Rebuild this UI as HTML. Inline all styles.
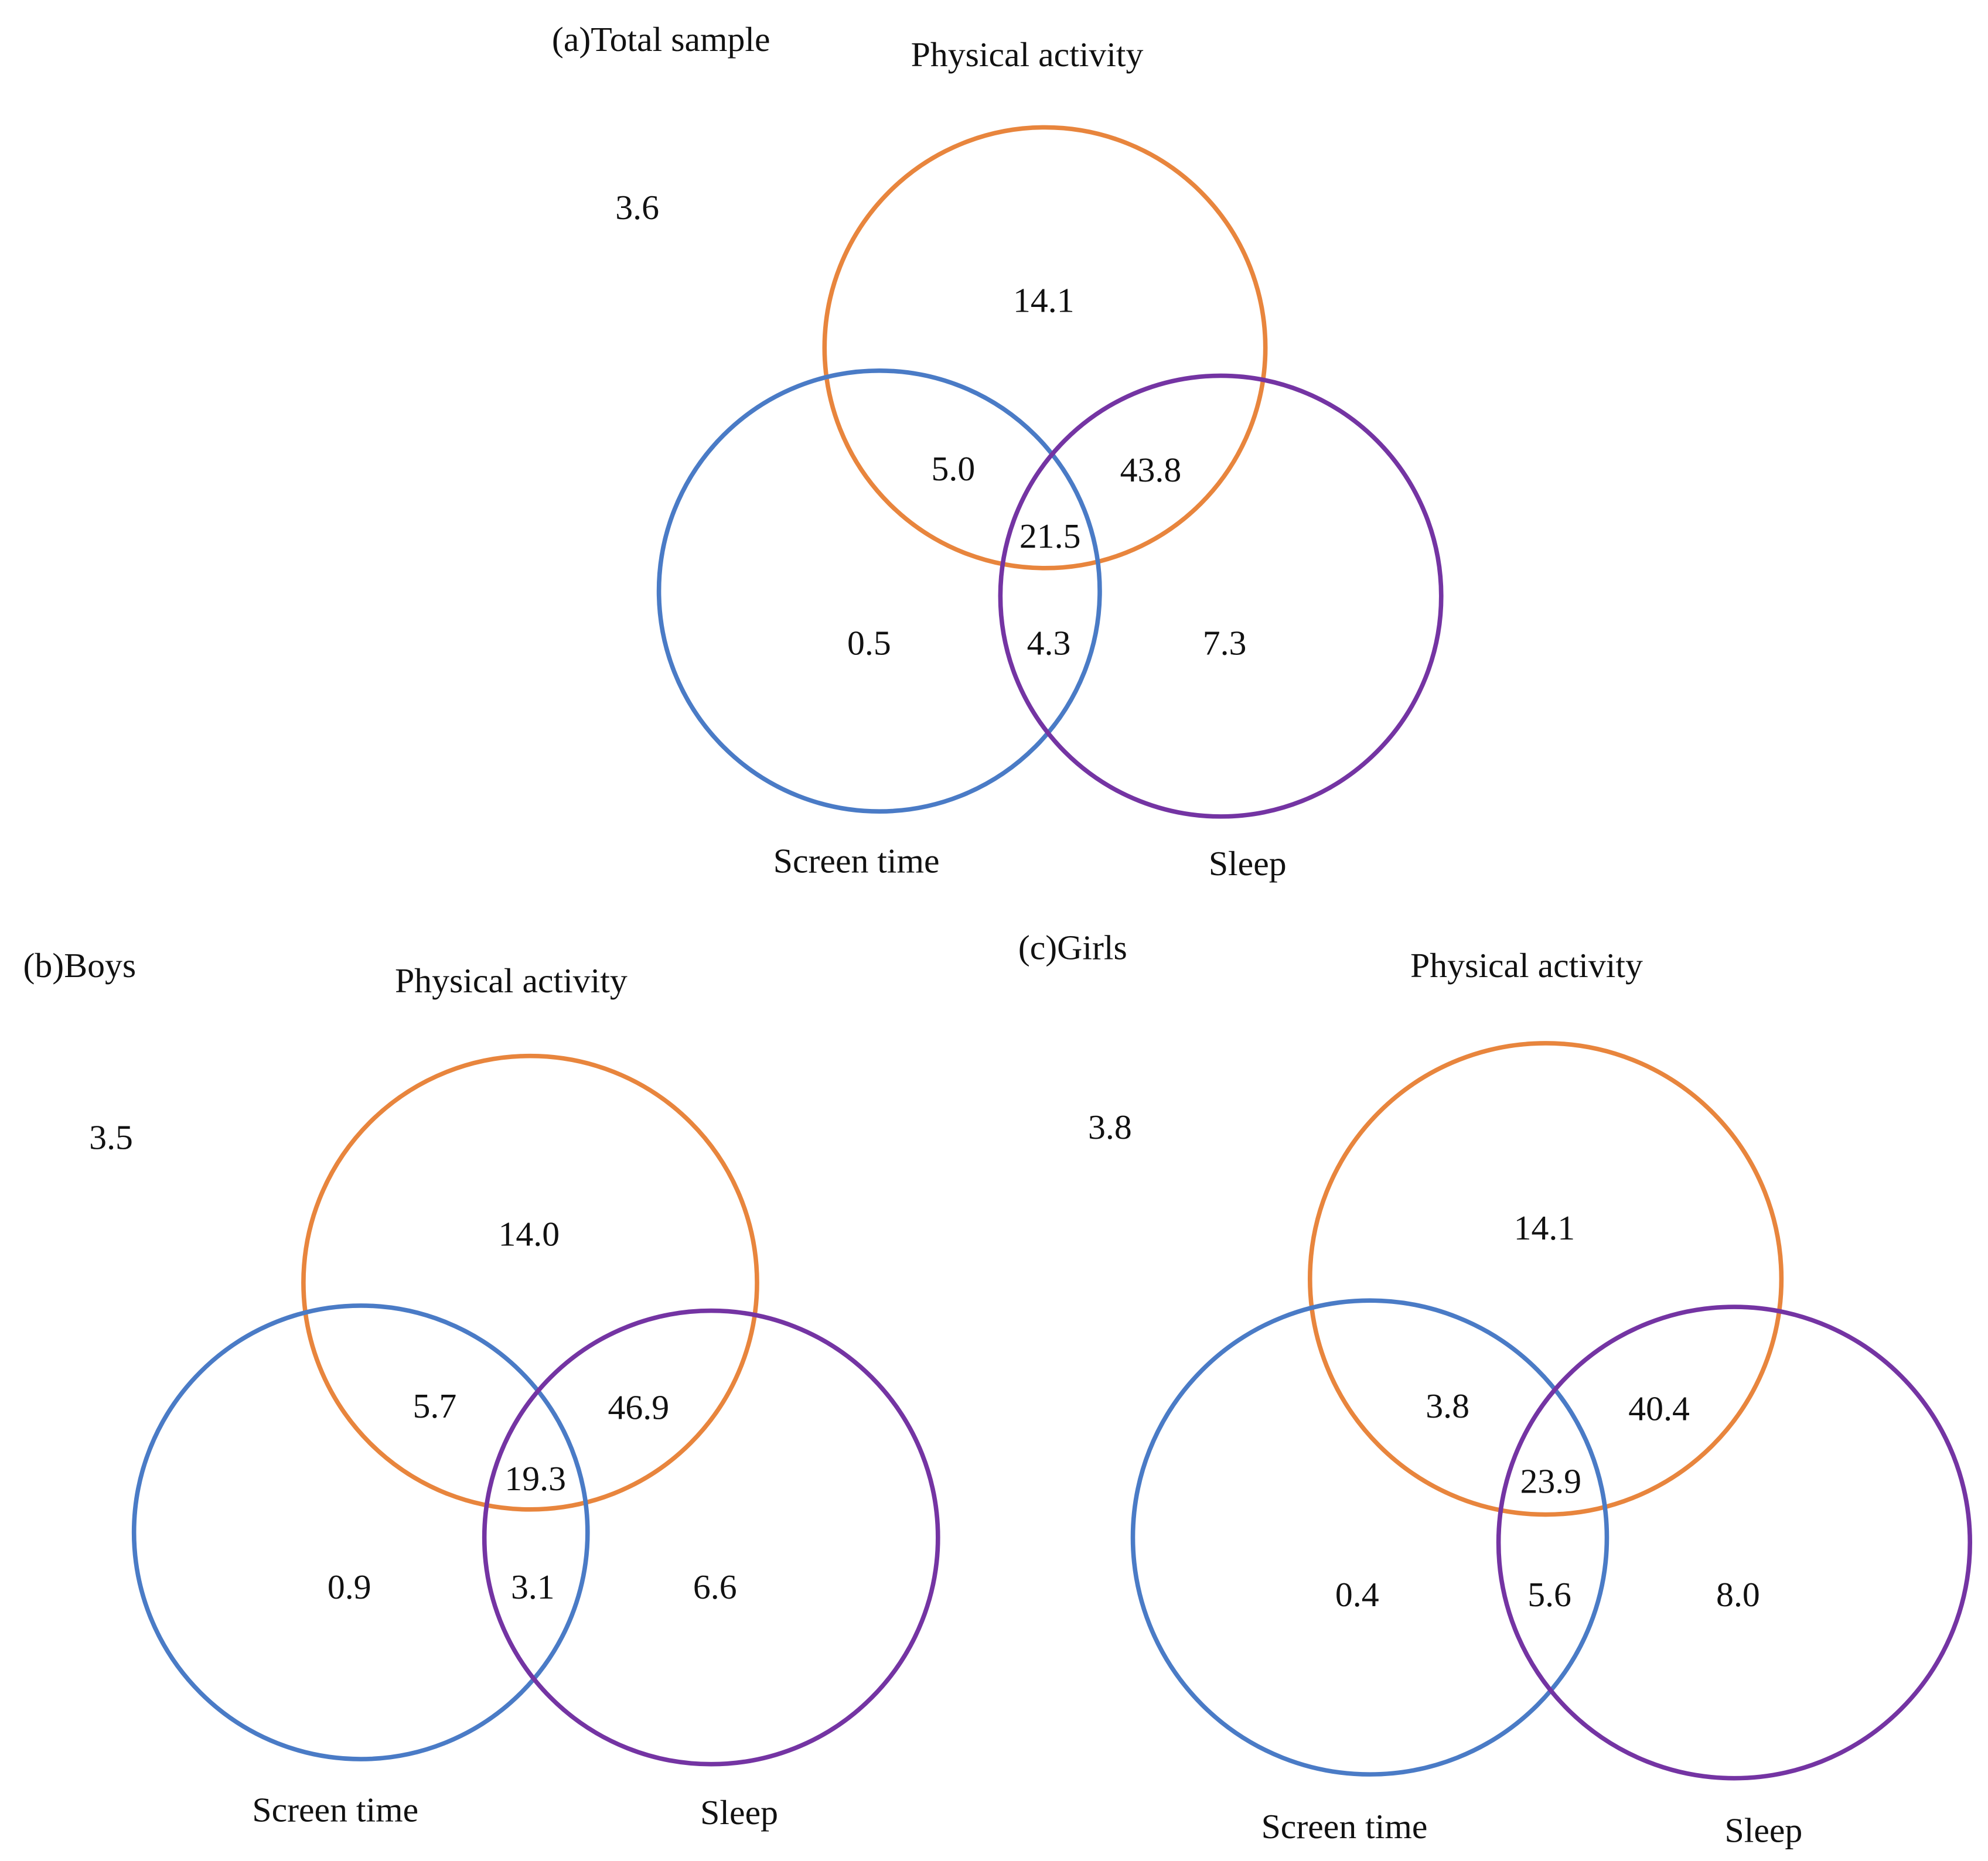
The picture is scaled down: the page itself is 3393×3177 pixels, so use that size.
<!DOCTYPE html>
<html><head><meta charset="utf-8"><style>
html,body{margin:0;padding:0;background:#fff}
svg{display:block}
text{font-family:"Liberation Serif",serif;font-size:27.5px;fill:#111}
</style></head><body>
<svg id="chart" width="3393" height="3177" viewBox="0 0 1560 1461" xmlns="http://www.w3.org/2000/svg"></svg>
<script>
const panelTitles = ["(a)Total sample", "(b)Boys", "(c)Girls"];
const panelIds = ["total", "boys", "girls"];
const setNames = ["Physical activity", "Screen time", "Sleep"];
const noneValues = ["3.6", "3.5", "3.8"];
const paOnly = ["14.1", "14.0", "14.1"];
const paScreen = ["5.0", "5.7", "3.8"];
const paSleep = ["43.8", "46.9", "40.4"];
const allThree = ["21.5", "19.3", "23.9"];
const screenOnly = ["0.5", "0.9", "0.4"];
const screenSleep = ["4.3", "3.1", "5.6"];
const sleepOnly = ["7.3", "6.6", "8.0"];

const layouts = [
 {title:[433,40,"start"], pa:[820,273,173], st:[690,464,173], sl:[958,468,173],
  paL:[806,52], none:[500,172], stL:[672,685], slL:[979,687],
  v:[[819,245],[748,377],[903,378],[824,430],[682,514],[823,514],[961,514]]},
 {title:[18,767,"start"], pa:[416,1007,178], st:[283,1203,178], sl:[558,1207,178],
  paL:[401,779], none:[87,902], stL:[263,1430], slL:[580,1432],
  v:[[415,978],[341,1113],[501,1114],[420,1170],[274,1255],[418,1255],[561,1255]]},
 {title:[799,753,"start"], pa:[1213,1004,185], st:[1075,1207,186], sl:[1361,1211,185],
  paL:[1198,767], none:[871,894], stL:[1055,1443], slL:[1384,1446],
  v:[[1212,973],[1136,1113],[1302,1115],[1217,1172],[1065,1261],[1216,1261],[1364,1261]]}
];
const NS="http://www.w3.org/2000/svg";
const svg=document.getElementById('chart');
function txt(g,x,y,s,anchor,name){
  const t=document.createElementNS(NS,'text');
  t.setAttribute('x',x);t.setAttribute('y',y);
  t.setAttribute('text-anchor',anchor||'middle');
  t.textContent=s;
  
  
  g.appendChild(t);
}
function circ(g,c,color,name){
  const e=document.createElementNS(NS,'circle');
  e.setAttribute('cx',c[0]);e.setAttribute('cy',c[1]);e.setAttribute('r',c[2]);
  e.setAttribute('fill','none');e.setAttribute('stroke',color);e.setAttribute('stroke-width',3.5);
  
  
  g.appendChild(e);
}
layouts.forEach((L,i)=>{
  const g=document.createElementNS(NS,'g');
  
  
  svg.appendChild(g);
  circ(g,L.pa,'#E8853D','physical-activity-circle');
  circ(g,L.st,'#4A7BC6','screen-time-circle');
  circ(g,L.sl,'#7434A3','sleep-circle');
  txt(g,L.title[0],L.title[1],panelTitles[i],'start','panel-title');
  txt(g,L.paL[0],L.paL[1],setNames[0],'middle','physical-activity-label');
  txt(g,L.stL[0],L.stL[1],setNames[1],'middle','screen-time-label');
  txt(g,L.slL[0],L.slL[1],setNames[2],'middle','sleep-label');
  txt(g,L.none[0],L.none[1],noneValues[i],'middle','none-value');
  const vals=[paOnly[i],paScreen[i],paSleep[i],allThree[i],screenOnly[i],screenSleep[i],sleepOnly[i]];
  const names=['pa-only-value','pa-screen-value','pa-sleep-value','all-three-value','screen-only-value','screen-sleep-value','sleep-only-value'];
  vals.forEach((v,k)=>txt(g,L.v[k][0],L.v[k][1],v,'middle',names[k]));
});
</script>
</body></html>
